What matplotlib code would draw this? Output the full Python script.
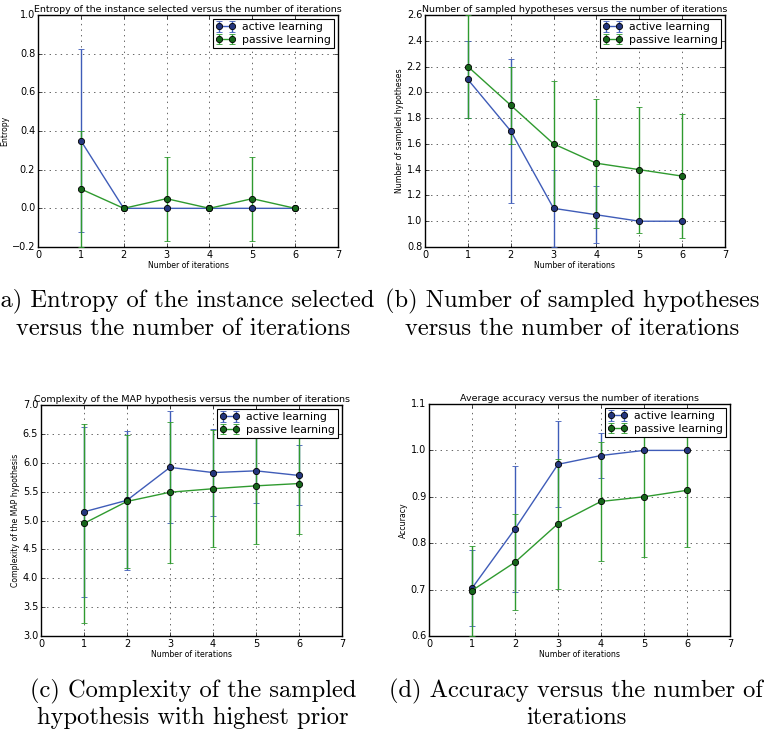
import matplotlib
matplotlib.use("Agg")
import matplotlib.pyplot as plt
import matplotlib.ticker as mticker
import numpy as np

plt.style.use("classic")
plt.rcParams["figure.facecolor"] = "white"
plt.rcParams["savefig.facecolor"] = "white"
plt.rcParams["font.family"] = "DejaVu Sans"

iterations = [1, 2, 3, 4, 5, 6]

# (a) entropy of the instance selected
entropy_active = [0.35, 0.0, 0.0, 0.0, 0.0, 0.0]
entropy_active_err = [0.475, 0.0, 0.0, 0.0, 0.0, 0.0]
entropy_passive = [0.1, 0.0, 0.05, 0.0, 0.05, 0.0]
entropy_passive_err = [0.3, 0.0, 0.217, 0.0, 0.217, 0.0]

# (b) number of sampled hypotheses
nhyp_active = [2.1, 1.7, 1.1, 1.05, 1.0, 1.0]
nhyp_active_err = [0.3, 0.56, 0.3, 0.22, 0.0, 0.0]
nhyp_passive = [2.2, 1.9, 1.6, 1.45, 1.4, 1.35]
nhyp_passive_err = [0.4, 0.3, 0.49, 0.5, 0.49, 0.48]

# (c) complexity of the MAP hypothesis
cplx_active = [5.15, 5.35, 5.92, 5.83, 5.86, 5.78]
cplx_active_err = [1.47, 1.2, 0.97, 0.75, 0.56, 0.52]
cplx_passive = [4.95, 5.33, 5.49, 5.55, 5.6, 5.64]
cplx_passive_err = [1.72, 1.15, 1.22, 1.01, 1.01, 0.87]

# (d) average accuracy
acc_active = [0.703, 0.831, 0.970, 0.989, 1.0, 1.0]
acc_active_err = [0.082, 0.136, 0.093, 0.049, 0.0, 0.0]
acc_passive = [0.698, 0.759, 0.842, 0.890, 0.900, 0.914]
acc_passive_err = [0.097, 0.103, 0.14, 0.128, 0.129, 0.122]

panels = [
    dict(rect=(38, 15, 300, 232), title="Entropy of the instance selected versus the number of iterations",
         ylabel="Entropy", ylim=(-0.2, 1.0), yticks=np.arange(-0.2, 1.01, 0.2),
         data=(entropy_active, entropy_active_err, entropy_passive, entropy_passive_err)),
    dict(rect=(425, 15, 300, 232), title="Number of sampled hypotheses versus the number of iterations",
         ylabel="Number of sampled hypotheses", ylim=(0.8, 2.6), yticks=np.arange(0.8, 2.61, 0.2),
         data=(nhyp_active, nhyp_active_err, nhyp_passive, nhyp_passive_err)),
    dict(rect=(41, 405, 301, 231), title="Complexity of the MAP hypothesis versus the number of iterations",
         ylabel="Complexity of the MAP hypothesis", ylim=(3.0, 7.0), yticks=np.arange(3.0, 7.01, 0.5),
         data=(cplx_active, cplx_active_err, cplx_passive, cplx_passive_err)),
    dict(rect=(429, 404, 301, 232), title="Average accuracy versus the number of iterations",
         ylabel="Accuracy", ylim=(0.6, 1.1), yticks=np.arange(0.6, 1.101, 0.1),
         data=(acc_active, acc_active_err, acc_passive, acc_passive_err)),
]

# (center x, baseline y, text) in pixels
captions = [
    (183, 307, "(a) Entropy of the instance selected"),
    (183, 335, "versus the number of iterations"),
    (572, 307, "(b) Number of sampled hypotheses"),
    (572, 335, "versus the number of iterations"),
    (193, 697, "(c) Complexity of the sampled"),
    (193, 724, "hypothesis with highest prior"),
    (576, 697, "(d) Accuracy versus the number of"),
    (576, 724, "iterations"),
]

W, H = 764, 733
fig = plt.figure(figsize=(W / 100, H / 100), dpi=100)

blue_line, blue_mark = "#3f5cb8", "#24367e"
green_line, green_mark = "#2f9a2f", "#16661a"

for p in panels:
    x0, y0, w, h = p["rect"]
    ax = fig.add_axes([x0 / W, 1 - (y0 + h) / H, w / W, h / H])
    a, ae, ps, pe = p["data"]
    ax.errorbar(iterations, a, yerr=ae, color=blue_line, ecolor=blue_line, marker="o",
                markersize=4.5, markerfacecolor=blue_mark, markeredgecolor="black",
                markeredgewidth=0.6, linewidth=1.0, elinewidth=1.0, capsize=2.5,
                label="active learning", zorder=3)
    ax.errorbar(iterations, ps, yerr=pe, color=green_line, ecolor=green_line, marker="o",
                markersize=4.5, markerfacecolor=green_mark, markeredgecolor="black",
                markeredgewidth=0.6, linewidth=1.0, elinewidth=1.0, capsize=2.5,
                label="passive learning", zorder=3)
    ax.set_xlim(0, 7)
    ax.set_ylim(*p["ylim"])
    ax.set_xticks(range(0, 8))
    ax.set_yticks(p["yticks"])
    ax.yaxis.set_major_formatter(mticker.FuncFormatter(
        lambda v, pos: ("%.1f" % (v + 0.0)).replace("-0.0", "0.0").replace("-", "\u2212")))
    ax.tick_params(labelsize=7, length=3, direction="in", pad=2)
    ax.grid(True, linestyle=":", color="black", linewidth=0.6, alpha=0.7)
    ax.set_title(p["title"], fontsize=6.8, pad=2)
    ax.set_xlabel("Number of iterations", fontsize=5.6, labelpad=1)
    ax.set_ylabel(p["ylabel"], fontsize=5.6, labelpad=2)
    for s in ax.spines.values():
        s.set_linewidth(1.0)
    leg = ax.legend(loc="upper right", fontsize=7.8, numpoints=2, borderaxespad=0.35,
                    handlelength=1.8, borderpad=0.3, labelspacing=0.25, handletextpad=0.6)
    leg.get_frame().set_linewidth(0.8)

for cx, cy, txt in captions:
    fig.text(cx / W, 1 - cy / H, txt, ha="center", va="baseline", fontsize=17.6,
             family="cmr10")

fig.savefig("out.png", dpi=100)
